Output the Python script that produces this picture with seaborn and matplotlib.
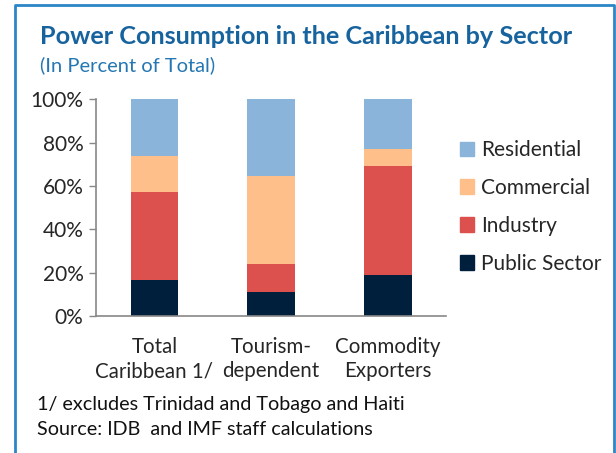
import matplotlib
matplotlib.use("Agg")
import matplotlib.pyplot as plt
import matplotlib.patches as mpatches
import seaborn as sns
import pandas as pd
import numpy as np

groups = ["Total\nCaribbean 1/", "Tourism-\ndependent", "Commodity\nExporters"]
sectors = ["Public Sector", "Industry", "Commercial", "Residential"]
public_sector = [16.8, 11.3, 19.1]
industry = [40.3, 12.7, 50.1]
commercial = [16.6, 40.5, 8.0]
residential = [26.3, 35.5, 22.8]
colors = {"Public Sector": "#001f3d", "Industry": "#dc504e",
          "Commercial": "#ffbf8a", "Residential": "#8ab4d9"}

sns.set_theme(style="white")
plt.rcParams["font.family"] = ["Lato", "DejaVu Sans"]

series = {"Public Sector": public_sector, "Industry": industry,
          "Commercial": commercial, "Residential": residential}
cum = np.cumsum([series[s] for s in sectors], axis=0)

fig = plt.figure(figsize=(6.16, 4.53), dpi=100)
ax = fig.add_axes([0.156, 0.302, 0.568, 0.479])

# draw cumulative totals from top down so stacks overlap correctly
for i in reversed(range(len(sectors))):
    df = pd.DataFrame({"group": groups, "value": cum[i]})
    sns.barplot(data=df, x="group", y="value", color=colors[sectors[i]],
                width=0.41, saturation=1, ax=ax, edgecolor="none")

ax.set_xlim(-0.5, 2.5)
ax.set_ylim(0, 100)
ax.set_yticks(range(0, 101, 20))
ax.set_yticklabels([f"{v}%" for v in range(0, 101, 20)], fontsize=15)
ax.set_xticks(range(3))
ax.set_xticklabels(groups, fontsize=14.8, linespacing=1.25)
ax.set_xticks([-0.5, 0.5, 1.5, 2.5], minor=True)
ax.tick_params(axis="x", which="major", length=0, pad=15)
ax.tick_params(axis="x", which="minor", length=5, color="#888888", width=1)
ax.tick_params(axis="y", length=5, color="#888888", width=1, left=True, pad=4)
ax.set_xlabel("")
ax.set_ylabel("")
for s in ["top", "right"]:
    ax.spines[s].set_visible(False)
for s in ["left", "bottom"]:
    ax.spines[s].set_color("#888888")
    ax.spines[s].set_linewidth(1.2)

handles = [mpatches.Patch(color=colors[s], label=s) for s in reversed(sectors)]
fig.legend(handles=handles, loc="center left", bbox_to_anchor=(0.716, 0.543),
           frameon=False, fontsize=15, handlelength=0.7, handleheight=0.7,
           handletextpad=0.3, labelspacing=0.86)

fig.text(0.065, 0.902, "Power Consumption in the Caribbean by Sector",
         fontsize=18.2, fontweight="bold", color="#17639e")
fig.text(0.065, 0.843, "(In Percent of Total)", fontsize=14.5, color="#2577b3")
fig.text(0.06, 0.095, "1/ excludes Trinidad and Tobago and Haiti",
         fontsize=14.2, color="#111111")
fig.text(0.06, 0.04, "Source: IDB  and IMF staff calculations",
         fontsize=14.2, color="#111111")

# blue frame around the figure (open at the bottom)
fig.add_artist(plt.Line2D([0.024, 0.024, 0.996, 0.996], [0.0, 0.99, 0.99, 0.0],
                          color="#2b86c8", linewidth=2, transform=fig.transFigure))

fig.savefig("out.png", dpi=100)
